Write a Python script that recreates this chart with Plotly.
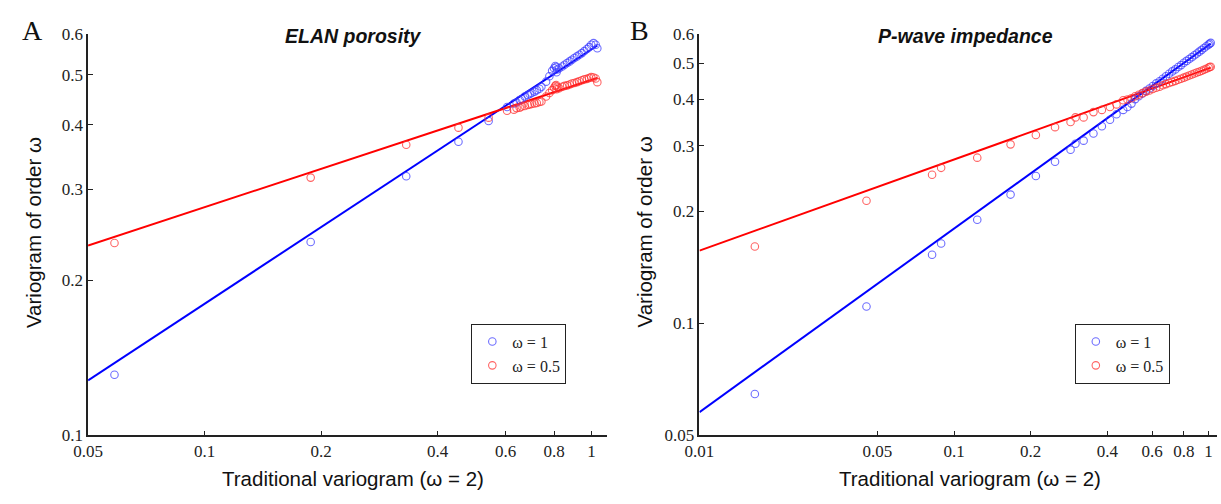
import numpy as np
import plotly.graph_objects as go

# ---------------- data ----------------
# Panel A: ELAN porosity
a_x = [0.0585, 0.188, 0.332, 0.453, 0.542, 0.605, 0.630, 0.640, 0.652, 0.660, 0.672, 0.684,
       0.692, 0.700, 0.712, 0.722, 0.733, 0.742, 0.763, 0.778, 0.791, 0.800, 0.806, 0.810,
       0.815, 0.812, 0.825, 0.840, 0.852, 0.865, 0.878, 0.890, 0.903, 0.917, 0.930, 0.944,
       0.958, 0.973, 0.986, 0.998, 1.012, 1.025, 1.035]
a_w1 = [0.131, 0.237, 0.318, 0.371, 0.407, 0.433, 0.440, 0.442, 0.447, 0.449, 0.454, 0.457,
        0.459, 0.461, 0.464, 0.467, 0.470, 0.474, 0.485, 0.497, 0.509, 0.515, 0.520, 0.518,
        0.512, 0.506, 0.515, 0.519, 0.523, 0.527, 0.531, 0.535, 0.539, 0.543, 0.547, 0.551,
        0.556, 0.561, 0.566, 0.572, 0.576, 0.572, 0.563]
a_w05 = [0.236, 0.316, 0.366, 0.395, 0.413, 0.426, 0.428, 0.431, 0.432, 0.434, 0.435, 0.437,
         0.438, 0.439, 0.440, 0.441, 0.443, 0.444, 0.454, 0.461, 0.467, 0.472, 0.476, 0.478,
         0.474, 0.469, 0.471, 0.474, 0.476, 0.477, 0.479, 0.481, 0.482, 0.484, 0.486, 0.488,
         0.490, 0.491, 0.493, 0.495, 0.494, 0.492, 0.484]
# fitted power laws  y = c * x^p
a_fit_w1 = (0.5605, 0.4935)
a_fit_w05 = (0.489, 0.247)
a_fit_span = (0.05, 1.035)

# Panel B: P-wave impedance
b_x = [0.0165, 0.0453, 0.082, 0.089, 0.1234, 0.1668, 0.2097, 0.2494, 0.287, 0.300, 0.323,
       0.353, 0.381, 0.410, 0.435, 0.462, 0.480, 0.498,
       0.515, 0.532, 0.55, 0.568, 0.586, 0.604, 0.623, 0.642, 0.661, 0.68,
       0.70, 0.72, 0.74, 0.76, 0.78, 0.80, 0.82, 0.84, 0.86, 0.88,
       0.90, 0.92, 0.94, 0.96, 0.98, 1.0, 1.01, 1.02]
b_w1 = [0.0646, 0.111, 0.153, 0.164, 0.190, 0.222, 0.249, 0.272, 0.293, 0.304, 0.310,
        0.324, 0.339, 0.353, 0.365, 0.375, 0.382, 0.390,
        0.401, 0.408, 0.415, 0.422, 0.428, 0.435, 0.442, 0.448, 0.455, 0.462,
        0.469, 0.476, 0.482, 0.489, 0.495, 0.502, 0.508, 0.514, 0.520, 0.526,
        0.532, 0.538, 0.544, 0.550, 0.556, 0.562, 0.565, 0.568]
b_w05 = [0.161, 0.2136, 0.251, 0.262, 0.279, 0.303, 0.321, 0.337, 0.348, 0.358, 0.358,
         0.370, 0.375, 0.382, 0.388, 0.398, 0.400, 0.403,
         0.408, 0.412, 0.416, 0.420, 0.423, 0.427, 0.430, 0.433, 0.437, 0.440,
         0.443, 0.446, 0.449, 0.452, 0.455, 0.458, 0.461, 0.464, 0.467, 0.470,
         0.473, 0.475, 0.478, 0.481, 0.484, 0.487, 0.489, 0.490]
b_fit_w1 = (0.560, 0.4934)
b_fit_w05 = (0.485, 0.245)
b_fit_span = (0.01, 1.02)

a_xticks = [0.05, 0.1, 0.2, 0.4, 0.6, 0.8, 1]
a_xticktext = ["0.05", "0.1", "0.2", "0.4", "0.6", "0.8", "1"]
a_yticks = [0.1, 0.2, 0.3, 0.4, 0.5, 0.6]
a_yticktext = ["0.1", "0.2", "0.3", "0.4", "0.5", "0.6"]
b_xticks = [0.01, 0.05, 0.1, 0.2, 0.4, 0.6, 0.8, 1]
b_xticktext = ["0.01", "0.05", "0.1", "0.2", "0.4", "0.6", "0.8", "1"]
b_yticks = [0.05, 0.1, 0.2, 0.3, 0.4, 0.5, 0.6]
b_yticktext = ["0.05", "0.1", "0.2", "0.3", "0.4", "0.5", "0.6"]

series_names = ["\u03c9 = 1", "\u03c9 = 0.5"]

# ---------------- styling ----------------
W, H = 1221, 504
BLUE_LINE = "rgb(0,0,255)"
RED_LINE = "rgb(255,0,0)"
BLUE_MK = "rgba(60,60,255,0.75)"
RED_MK = "rgba(255,50,50,0.75)"
SERIF = "Liberation Serif"
SANS = "Liberation Sans"

fig = go.Figure()


def add_panel(xs, y1, y05, fit1, fit05, span, xa, ya, legend):
    fx = np.array(span)
    for (c, p), col in ((fit1, BLUE_LINE), (fit05, RED_LINE)):
        fig.add_trace(go.Scatter(x=fx, y=c * fx ** p, mode="lines",
                                 line=dict(color=col, width=2),
                                 showlegend=False, xaxis=xa, yaxis=ya, hoverinfo="skip"))
    for ys, mk, name in ((y1, BLUE_MK, series_names[0]), (y05, RED_MK, series_names[1])):
        fig.add_trace(go.Scatter(x=xs, y=ys, mode="markers", name=name,
                                 marker=dict(symbol="circle-open", size=7.5, color=mk,
                                             line=dict(width=1.1, color=mk)),
                                 xaxis=xa, yaxis=ya, legend=legend, showlegend=True))


add_panel(a_x, a_w1, a_w05, a_fit_w1, a_fit_w05, a_fit_span, "x", "y", "legend")
add_panel(b_x, b_w1, b_w05, b_fit_w1, b_fit_w05, b_fit_span, "x2", "y2", "legend2")


def px2fx(px):
    return px / W


def py2fy(py):
    return (H - py) / H


y_dom = [py2fy(443), py2fy(26)]
axis_common = dict(type="log", showline=True, linecolor="#222", linewidth=1.5,
                   ticks="inside", ticklen=5, tickwidth=1.3, tickcolor="#222",
                   showgrid=False, zeroline=False, mirror=False,
                   tickfont=dict(family=SERIF, size=17, color="#222"))

legend_style = dict(xanchor="left", yanchor="top",
                    bordercolor="#222", borderwidth=1, bgcolor="white",
                    font=dict(family=SERIF, size=16, color="#222"), itemwidth=30,
                    tracegroupgap=0)

fig.update_layout(
    width=W, height=H, margin=dict(l=0, r=0, t=0, b=0),
    paper_bgcolor="white", plot_bgcolor="white",
    xaxis=dict(domain=[px2fx(74), px2fx(599)], range=[np.log10(0.05), np.log10(1.094)],
               tickvals=a_xticks, ticktext=a_xticktext, anchor="y", **axis_common),
    yaxis=dict(domain=y_dom, range=[np.log10(0.1), np.log10(0.6)],
               tickvals=a_yticks, ticktext=a_yticktext, anchor="x", **axis_common),
    xaxis2=dict(domain=[px2fx(693), px2fx(1217)], range=[np.log10(0.01), np.log10(1.08)],
                tickvals=b_xticks, ticktext=b_xticktext, anchor="y2", **axis_common),
    yaxis2=dict(domain=y_dom, range=[np.log10(0.05), np.log10(0.6)],
                tickvals=b_yticks, ticktext=b_yticktext, anchor="x2", **axis_common),
    legend=dict(x=px2fx(462), y=py2fy(327), **legend_style),
    legend2=dict(x=px2fx(1073), y=py2fy(327), **legend_style),
)

TITLE_SIZE = 19.5
AXT_SIZE = 20.5
annots = [
    dict(text="A", x=px2fx(18), y=py2fy(22), font=dict(family=SERIF, size=28, color="#111")),
    dict(text="B", x=px2fx(632), y=py2fy(22), font=dict(family=SERIF, size=28, color="#111")),
    dict(text="<b><i>ELAN porosity</i></b>", x=px2fx(343), y=py2fy(28),
         font=dict(family=SANS, size=TITLE_SIZE, color="#111")),
    dict(text="<b><i>P-wave impedance</i></b>", x=px2fx(962), y=py2fy(28),
         font=dict(family=SANS, size=TITLE_SIZE, color="#111")),
    dict(text="Traditional variogram (\u03c9 = 2)", x=px2fx(342), y=py2fy(488),
         font=dict(family=SANS, size=AXT_SIZE, color="#111")),
    dict(text="Traditional variogram (\u03c9 = 2)", x=px2fx(967), y=py2fy(488),
         font=dict(family=SANS, size=AXT_SIZE, color="#111")),
    dict(text="Variogram of order \u03c9", x=px2fx(18), y=py2fy(232), textangle=-90,
         font=dict(family=SANS, size=AXT_SIZE, color="#111")),
    dict(text="Variogram of order \u03c9", x=px2fx(637), y=py2fy(232), textangle=-90,
         font=dict(family=SANS, size=AXT_SIZE, color="#111")),
]
for a in annots:
    fig.add_annotation(xref="paper", yref="paper", showarrow=False,
                       xanchor="center", yanchor="middle", **a)

fig.write_html("out.html")
